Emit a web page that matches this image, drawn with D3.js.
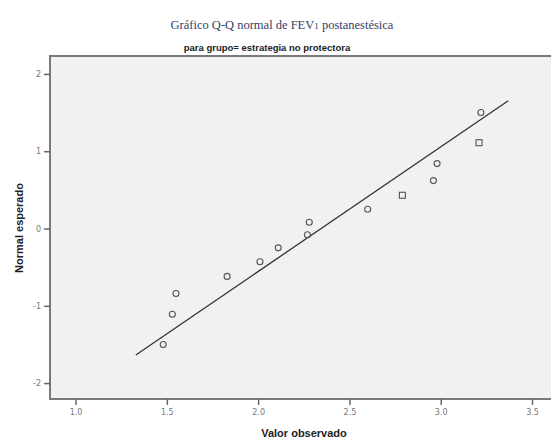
<!DOCTYPE html>
<html><head><meta charset="utf-8">
<script src="https://cdn.jsdelivr.net/npm/d3@7"></script>
<style>body{margin:0;background:#fff}svg{display:block}</style>
</head><body>
<svg id="c" width="551" height="442"></svg>
<script>
// Observed values (x) and expected normal (y)
const observed = [1.48, 1.53, 1.55, 1.83, 2.01, 2.11, 2.27, 2.28, 2.60, 2.79, 2.96, 2.98, 3.21, 3.22];
const expected = [-1.50, -1.11, -0.84, -0.62, -0.43, -0.25, -0.08, 0.08, 0.25, 0.43, 0.62, 0.84, 1.11, 1.50];
const markerShape = ["c","c","c","c","c","c","c","c","c","s","c","c","s","c"];
const xTicks = [1.0, 1.5, 2.0, 2.5, 3.0, 3.5];
const yTicks = [-2, -1, 0, 1, 2];
const lineMean = 2.345, lineSd = 0.62;
const lineX = [1.33, 3.37];

const svg = d3.select("#c");
const L = 50, T = 56, B = 399, R = 553;
const x = d3.scaleLinear().domain([0.86, 3.604]).range([L, 551]);
const y = d3.scaleLinear().domain([-2.206, 2.232]).range([B, T]);

svg.append("rect").attr("x", L).attr("y", T).attr("width", R - L).attr("height", B - T)
  .attr("fill", "#f1f1f1").attr("stroke", "#7a7a7a").attr("stroke-width", 2);

// axes
const ya = svg.append("g").attr("transform", `translate(${L},0)`)
  .call(d3.axisLeft(y).tickValues(yTicks).tickSize(6).tickPadding(3).tickFormat(d => String(d)));
const xa = svg.append("g").attr("transform", `translate(0,${B})`)
  .call(d3.axisBottom(x).tickValues(xTicks).tickSize(6).tickPadding(4).tickFormat(d3.format(".1f")));
[ya, xa].forEach(a => {
  a.select(".domain").remove();
  a.selectAll("line").attr("stroke", "#666").attr("stroke-width", 1.5);
  a.selectAll("text").attr("fill", "#777").attr("font-size", 8).attr("font-family", "DejaVu Sans, sans-serif");
});

// reference line
svg.append("line")
  .attr("x1", x(lineX[0])).attr("y1", y((lineX[0] - lineMean) / lineSd))
  .attr("x2", x(lineX[1])).attr("y2", y((lineX[1] - lineMean) / lineSd))
  .attr("stroke", "#333").attr("stroke-width", 1.3);

// points
const pts = observed.map((v, i) => ({x: v, y: expected[i], s: markerShape[i]}));
svg.selectAll(".pc").data(pts.filter(d => d.s === "c")).join("circle")
  .attr("cx", d => x(d.x)).attr("cy", d => y(d.y)).attr("r", 3)
  .attr("fill", "none").attr("stroke", "#555").attr("stroke-width", 1.1);
svg.selectAll(".ps").data(pts.filter(d => d.s === "s")).join("rect")
  .attr("x", d => x(d.x) - 3).attr("y", d => y(d.y) - 3).attr("width", 6).attr("height", 6)
  .attr("fill", "none").attr("stroke", "#555").attr("stroke-width", 1.1);

// titles
const t = svg.append("text").attr("x", 282).attr("y", 29).attr("text-anchor", "middle")
  .attr("font-family", "Liberation Serif, serif").attr("font-size", 12.5).attr("fill", "#34406a");
t.append("tspan").text("Gráfico Q-Q normal de FEV");
t.append("tspan").attr("font-size", 9).text("1");
t.append("tspan").text(" postanestésica");
svg.append("text").attr("x", 267).attr("y", 51).attr("text-anchor", "middle")
  .attr("font-family", "Liberation Sans, Arial, sans-serif").attr("font-weight", "bold")
  .attr("font-size", 9.5).attr("fill", "#222").text("para grupo= estrategia no protectora");
svg.append("text").attr("x", 304).attr("y", 437).attr("text-anchor", "middle")
  .attr("font-family", "Liberation Sans, Arial, sans-serif").attr("font-weight", "bold")
  .attr("font-size", 11).attr("fill", "#222").text("Valor observado");
svg.append("text").attr("transform", "translate(23,228) rotate(-90)").attr("text-anchor", "middle")
  .attr("font-family", "Liberation Sans, Arial, sans-serif").attr("font-weight", "bold")
  .attr("font-size", 11).attr("fill", "#222").text("Normal esperado");
</script>
</body></html>
